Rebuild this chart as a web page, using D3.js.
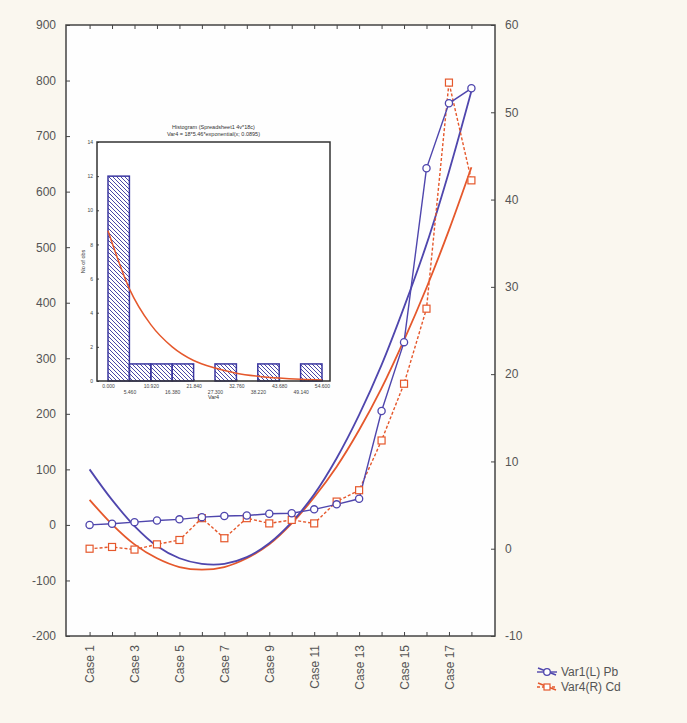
<!DOCTYPE html>
<head>
  <meta charset="utf-8">
  <script src="https://d3js.org/d3.v7.min.js"></script>
  <style>
  body{ margin:0; background:#faf7ef; }
  text{ font-family:"Liberation Sans", Arial, sans-serif; }
  .main .tick text{ font-size:12px; fill:#555; }
  .main .tick line{ stroke:#444; }
  .inset .tick text{ font-size:5px; fill:#444; }
  .inset .tick line{ stroke:#444; }
  .domain{ display:none; }
  </style>
</head>
<body>
  <script>
    // categories
    var cases = ["Case 1","Case 2","Case 3","Case 4","Case 5","Case 6","Case 7","Case 8","Case 9",
                 "Case 10","Case 11","Case 12","Case 13","Case 14","Case 15","Case 16","Case 17","Case 18"];
    var caseLabels = ["Case 1","Case 3","Case 5","Case 7","Case 9","Case 11","Case 13","Case 15","Case 17"];

    // Var1 (left axis, Pb) and Var4 (right axis, Cd)
    var pb = [0, 2, 5, 8, 10, 14, 16, 17, 20, 21, 28, 37, 47, 205, 329, 642, 759, 786];
    var cd = [0.0, 0.2, -0.1, 0.5, 1.0, 3.5, 1.2, 3.5, 2.9, 3.3, 2.9, 5.4, 6.7, 12.4, 18.9, 27.5, 53.4, 42.2];
    // fitted curves at every case
    var pbFit = [100, 45, -2, -38, -60, -70, -70, -58, -33, 5, 55, 120, 198, 288, 392, 505, 636, 781];
    var cdFit = [5.6, 2.8, 0.5, -1.1, -2.1, -2.4, -2.1, -1.1, 0.5, 2.9, 5.9, 9.4, 13.6, 18.4, 23.9, 29.9, 36.5, 43.7];

    var leftTicks = [-200,-100,0,100,200,300,400,500,600,700,800,900];
    var rightTicks = [-10,0,10,20,30,40,50,60];

    // inset histogram of Var4
    var binEdges = [0, 5.46, 10.92, 16.38, 21.84, 27.30, 32.76, 38.22, 43.68, 49.14, 54.60];
    var binLabels = ["0.000","5.460","10.920","16.380","21.840","27.300","32.760","38.220","43.680","49.140","54.600"];
    var binCounts = [12, 1, 1, 1, 0, 1, 0, 1, 0, 1];
    var expFit = [8.8, 5.4, 3.3, 2.0, 1.2, 0.76, 0.46, 0.28, 0.17, 0.10, 0.06];
    var histTicks = [0,2,4,6,8,10,12,14];

    var W = 687, H = 723;
    var L = 66, R = 495, T = 25, B = 636;
    var blue = "#4f46ad", orange = "#e5582c";
    var plain = function(d) { return String(d); };

    var svg = d3.select("body").append("svg")
        .attr("width", W).attr("height", H);

    var defs = svg.append("defs");
    defs.append("pattern")
        .attr("id", "hatch")
        .attr("patternUnits", "userSpaceOnUse")
        .attr("width", 4).attr("height", 4)
        .append("path")
        .attr("d", "M-1,-1 L1,1 M0,0 L4,4 M3,3 L5,5")
        .attr("stroke", "#4a47a6")
        .attr("stroke-width", 1);

    var main = svg.append("g").attr("class", "main");

    // plot background
    main.append("rect")
        .attr("x", L).attr("y", T)
        .attr("width", R - L).attr("height", B - T)
        .attr("fill", "#fefefe");

    var x = d3.scalePoint().domain(cases).range([L, R]).padding(1.05);
    var yL = d3.scaleLinear().domain([-200, 900]).range([B, T]);
    var yR = d3.scaleLinear().domain([-10, 60]).range([B, T]);

    // axes
    main.append("g")
        .attr("transform", "translate(" + L + ",0)")
        .call(d3.axisLeft(yL).tickValues(leftTicks).tickSize(-4).tickPadding(10).tickFormat(plain));

    main.append("g")
        .attr("transform", "translate(" + R + ",0)")
        .call(d3.axisRight(yR).tickValues(rightTicks).tickSize(-4).tickPadding(10).tickFormat(plain));

    main.append("g")
        .attr("transform", "translate(0," + B + ")")
        .call(d3.axisBottom(x).tickSize(-4).tickPadding(9)
            .tickFormat(function(d) { return caseLabels.indexOf(d) >= 0 ? d : ""; }))
        .selectAll("text")
        .attr("transform", "rotate(-90)")
        .attr("x", -9).attr("y", 0)
        .attr("dy", "0.35em")
        .style("text-anchor", "end");

    main.append("g")
        .attr("transform", "translate(0," + T + ")")
        .call(d3.axisTop(x).tickSize(-4).tickFormat(""));

    main.append("rect")
        .attr("x", L).attr("y", T)
        .attr("width", R - L).attr("height", B - T)
        .attr("fill", "none").attr("stroke", "#444").attr("stroke-width", 1.5);

    // fitted curves
    var fitLineL = d3.line()
        .x(function(d, i) { return x(cases[i]); })
        .y(function(d) { return yL(d); })
        .curve(d3.curveCatmullRom);
    var fitLineR = d3.line()
        .x(function(d, i) { return x(cases[i]); })
        .y(function(d) { return yR(d); })
        .curve(d3.curveCatmullRom);

    main.append("path").datum(cdFit)
        .attr("d", fitLineR).attr("fill", "none")
        .attr("stroke", orange).attr("stroke-width", 1.8);
    main.append("path").datum(pbFit)
        .attr("d", fitLineL).attr("fill", "none")
        .attr("stroke", blue).attr("stroke-width", 1.8);

    // data lines
    var lineL = d3.line()
        .x(function(d, i) { return x(cases[i]); })
        .y(function(d) { return yL(d); });
    var lineR = d3.line()
        .x(function(d, i) { return x(cases[i]); })
        .y(function(d) { return yR(d); });

    main.append("path").datum(cd)
        .attr("d", lineR).attr("fill", "none")
        .attr("stroke", orange).attr("stroke-width", 1.4)
        .attr("stroke-dasharray", "3,2");
    main.append("path").datum(pb)
        .attr("d", lineL).attr("fill", "none")
        .attr("stroke", blue).attr("stroke-width", 1.4);

    // markers
    main.selectAll(".sq").data(cd).enter().append("rect")
        .attr("class", "sq")
        .attr("x", function(d, i) { return x(cases[i]) - 3.5; })
        .attr("y", function(d) { return yR(d) - 3.5; })
        .attr("width", 7).attr("height", 7)
        .attr("fill", "#fff").attr("stroke", orange).attr("stroke-width", 1.2);
    main.selectAll(".ci").data(pb).enter().append("circle")
        .attr("class", "ci")
        .attr("cx", function(d, i) { return x(cases[i]); })
        .attr("cy", function(d) { return yL(d); })
        .attr("r", 3.6)
        .attr("fill", "#fff").attr("stroke", blue).attr("stroke-width", 1.3);

    // inset histogram
    var iL = 97, iR = 330, iT = 142, iB = 381;
    var inset = svg.append("g").attr("class", "inset");

    inset.append("rect")
        .attr("x", iL).attr("y", iT)
        .attr("width", iR - iL).attr("height", iB - iT)
        .attr("fill", "#fff");

    var hx = d3.scaleLinear().domain([0, 54.6]).range([iL + 11, iR - 8]);
    var hy = d3.scaleLinear().domain([0, 14]).range([iB, iT]);

    inset.append("g")
        .attr("transform", "translate(" + iL + ",0)")
        .call(d3.axisLeft(hy).tickValues(histTicks).tickSize(-2).tickPadding(4).tickFormat(plain));

    var xAx = inset.append("g")
        .attr("transform", "translate(0," + iB + ")")
        .call(d3.axisBottom(hx).tickValues(binEdges).tickSize(-2).tickPadding(3)
            .tickFormat(function(d, i) { return binLabels[i]; }));
    xAx.selectAll("text")
        .attr("dy", function(d, i) { return i % 2 ? "1.9em" : "0.71em"; });

    inset.selectAll(".bar").data(binCounts).enter().append("rect")
        .attr("class", "bar")
        .attr("x", function(d, i) { return hx(binEdges[i]); })
        .attr("y", function(d) { return hy(d); })
        .attr("width", function(d, i) { return hx(binEdges[i + 1]) - hx(binEdges[i]); })
        .attr("height", function(d) { return iB - hy(d); })
        .attr("fill", "url(#hatch)")
        .attr("stroke", "#3b37a0").attr("stroke-width", function(d) { return d > 0 ? 1.5 : 0; });

    inset.append("path").datum(expFit)
        .attr("d", d3.line()
            .x(function(d, i) { return hx(binEdges[i]); })
            .y(function(d) { return hy(d); })
            .curve(d3.curveMonotoneX))
        .attr("fill", "none").attr("stroke", orange).attr("stroke-width", 1.5);

    inset.append("rect")
        .attr("x", iL).attr("y", iT)
        .attr("width", iR - iL).attr("height", iB - iT)
        .attr("fill", "none").attr("stroke", "#333").attr("stroke-width", 1.5);

    inset.append("text")
        .attr("x", (iL + iR) / 2).attr("y", 129)
        .attr("text-anchor", "middle").attr("font-size", 5.5).attr("fill", "#333")
        .text("Histogram (Spreadsheet1 4v*18c)");
    inset.append("text")
        .attr("x", (iL + iR) / 2).attr("y", 136)
        .attr("text-anchor", "middle").attr("font-size", 5.5).attr("fill", "#333")
        .text("Var4 = 18*5.46*exponential(x; 0.0895)");
    inset.append("text")
        .attr("x", (iL + iR) / 2).attr("y", 399)
        .attr("text-anchor", "middle").attr("font-size", 5.5).attr("fill", "#333")
        .text("Var4");
    inset.append("text")
        .attr("transform", "translate(" + (iL - 12) + "," + ((iT + iB) / 2) + ") rotate(-90)")
        .attr("text-anchor", "middle").attr("font-size", 5.5).attr("fill", "#333")
        .text("No of obs");

    // legend
    var legend = svg.append("g");
    var legItems = [
      {label: "Var1(L) Pb", color: blue, shape: "circle", dash: null},
      {label: "Var4(R) Cd", color: orange, shape: "square", dash: "3,2"}
    ];
    legItems.forEach(function(d, i) {
      var ly = 672 + i * 15;
      legend.append("line")
          .attr("x1", 538).attr("x2", 556).attr("y1", ly - 4).attr("y2", ly + 3)
          .attr("stroke", d.color).attr("stroke-width", 1.5);
      legend.append("line")
          .attr("x1", 537).attr("x2", 557).attr("y1", ly).attr("y2", ly)
          .attr("stroke", d.color).attr("stroke-width", 1.4)
          .attr("stroke-dasharray", d.dash);
      if (d.shape === "circle") {
        legend.append("circle").attr("cx", 547).attr("cy", ly).attr("r", 3.3)
            .attr("fill", "#fff").attr("stroke", d.color).attr("stroke-width", 1.3);
      } else {
        legend.append("rect").attr("x", 544).attr("y", ly - 3).attr("width", 6).attr("height", 6)
            .attr("fill", "#fff").attr("stroke", d.color).attr("stroke-width", 1.2);
      }
      legend.append("text")
          .attr("x", 561).attr("y", ly + 4)
          .attr("font-size", 12).attr("fill", "#555")
          .text(d.label);
    });
  </script>
</body>
